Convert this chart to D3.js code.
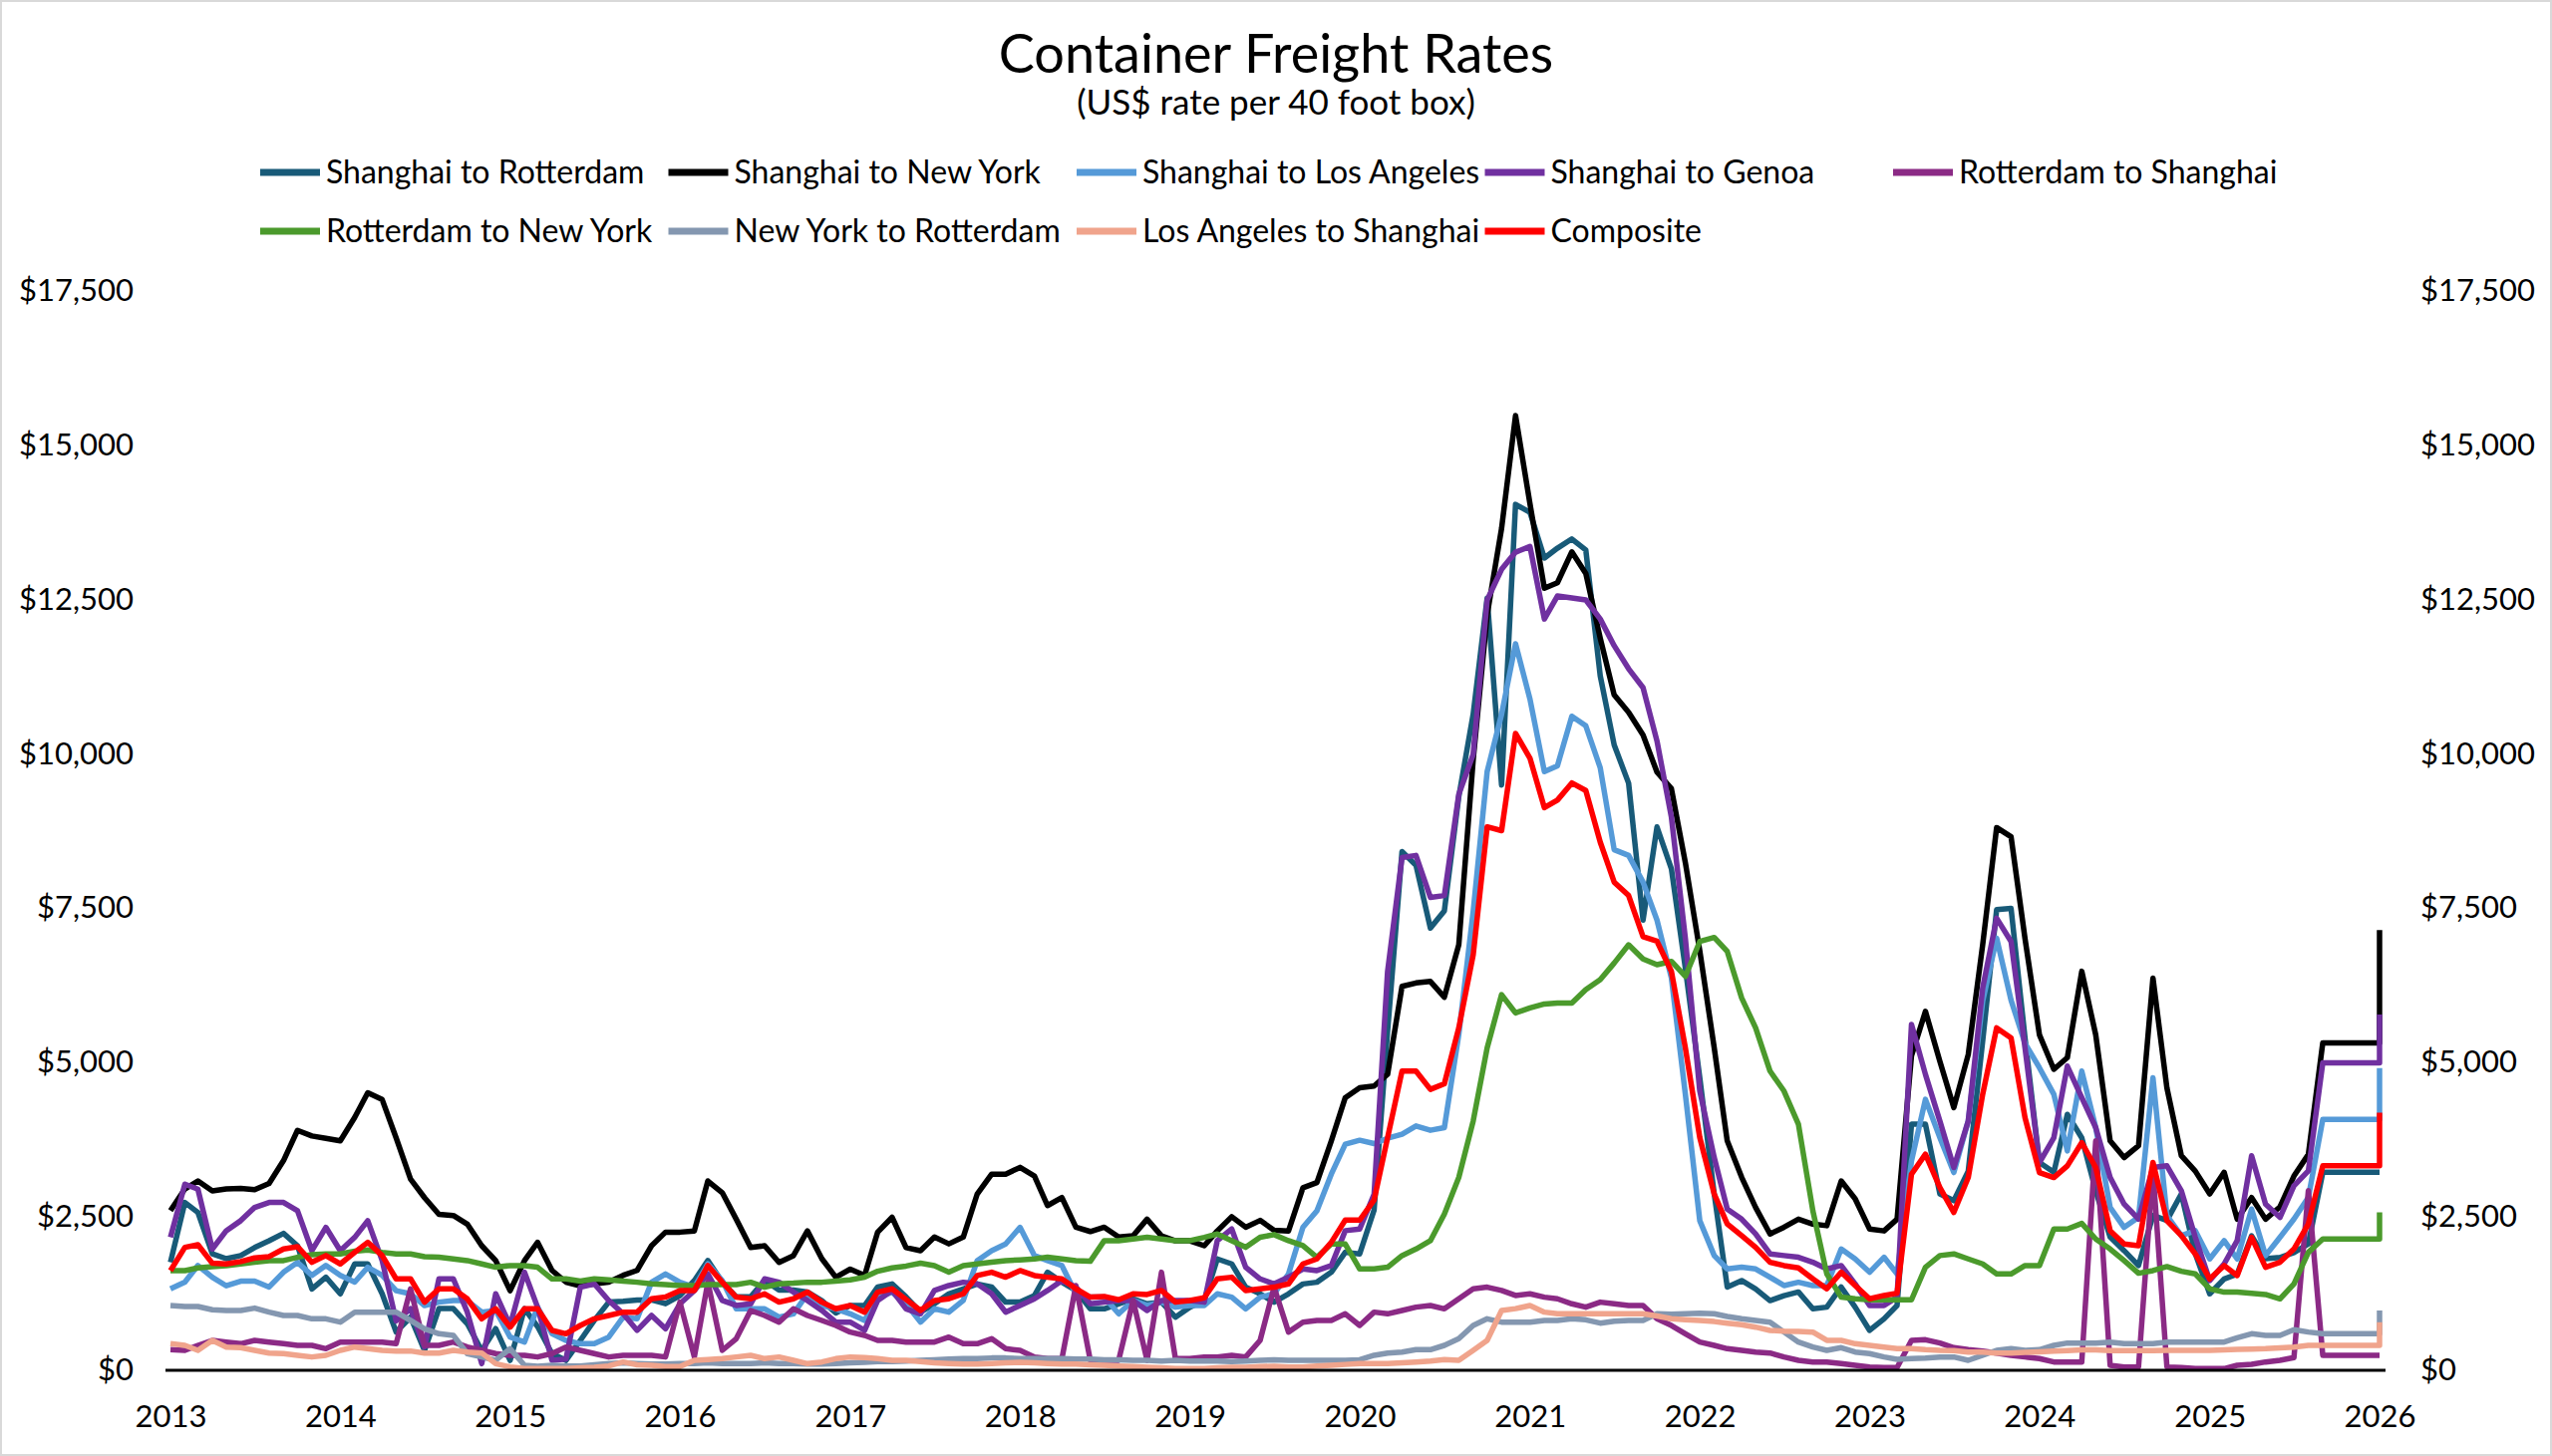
<!DOCTYPE html>
<html>
<head>
<meta charset="utf-8">
<script src="https://cdn.jsdelivr.net/npm/d3@7"></script>
<style>
  body { margin: 0; background: #fff; }
  svg { display: block; font-family: Lato, "Open Sans", sans-serif; }
</style>
</head>
<body>
<svg id="chart" width="2560" height="1461"></svg>
<script>
// monthly values Jan 2013 .. Jan 2026, last entry is the latest reading (plotted at Jan 2026 too)
const routes = ["Shanghai to Rotterdam", "Shanghai to New York", "Shanghai to Los Angeles", "Shanghai to Genoa",
    "Rotterdam to Shanghai", "Rotterdam to New York", "New York to Rotterdam", "Los Angeles to Shanghai", "Composite"];
const colors = ["#185a78", "#000000", "#559ad8", "#7030a0", "#8b2a85", "#4b9a2c", "#8497b0", "#f0a48c", "#ff0000"];

const shanghaiRotterdam = [
    1750, 2720, 2560, 1890, 1810, 1860, 1990, 2100, 2220, 2020, 1320, 1510,
    1240, 1725, 1725, 1240, 620, 860, 320, 1000, 1000, 755, 320, 675,
    160, 1000, 710, 270, 160, 485, 810, 1105, 1120, 1140, 1140, 1080,
    1210, 1455, 1780, 1430, 1190, 1190, 1460, 1300, 1300, 1270, 1130, 930,
    1050, 1050, 1350, 1400, 1190, 943, 1078, 1240, 1320, 1400, 1350, 1105,
    1105, 1213, 1590, 1428, 1294, 997, 997, 1078, 1159, 1078, 1105, 862,
    1024, 1132, 1806, 1725, 1348, 1240, 1105, 1240, 1400, 1428, 1590, 1913,
    1887, 2600, 5500, 8410, 8190, 7170, 7450, 9300, 10640, 12520, 9490, 14040,
    13910, 13170, 13330, 13480, 13300, 11260, 10140, 9520, 7300, 8810, 8130, 6520,
    4740, 2860, 1350, 1455, 1320, 1130, 1210, 1270, 997, 1024, 1350, 1024,
    647, 835, 1050, 3990, 3990, 2860, 2750, 3230, 5340, 7470, 7490, 5390,
    3370, 3210, 4150, 3770, 2910, 2160, 1940, 1700, 2510, 2430, 2860, 1890,
    1240, 1480, 1560, 2180, 1810, 1830, 1910, 2050, 3210, 3210, 3210, 3210,
    3210, 3210];
const shanghaiNewYork = [
    2590, 2940, 3070, 2910, 2940, 2950, 2930, 3030, 3400, 3890, 3800, 3760,
    3720, 4100, 4500, 4390, 3770, 3100, 2800, 2530, 2510, 2370, 2020, 1780,
    1290, 1780, 2075, 1620, 1430, 1370, 1400, 1430, 1540, 1620, 2020, 2240,
    2240, 2260, 3070, 2880, 2450, 1990, 2020, 1750, 1860, 2260, 1810, 1510,
    1640, 1540, 2240, 2480, 1990, 1940, 2160, 2050, 2160, 2860, 3180, 3180,
    3290, 3150, 2670, 2800, 2320, 2250, 2320, 2160, 2180, 2450, 2180, 2100,
    2100, 2020, 2260, 2490, 2320, 2430, 2270, 2260, 2960, 3045, 3720, 4420,
    4580, 4610, 4800, 6225, 6280, 6305, 6050, 6900, 9900, 12250, 13650, 15480,
    14050, 12680, 12770, 13270, 12920, 11870, 10950, 10670, 10300, 9700, 9430, 8230,
    6800, 5230, 3720, 3130, 2640, 2210, 2320, 2450, 2370, 2345, 3070, 2780,
    2290, 2260, 2450, 5100, 5820, 5010, 4260, 5120, 6900, 8800, 8650, 7000,
    5440, 4880, 5070, 6470, 5440, 3720, 3450, 3640, 6360, 4580, 3480, 3230,
    2860, 3210, 2450, 2800, 2450, 2650, 3150, 3500, 5310, 5310, 5310, 5310,
    5310, 7140];
const shanghaiLosAngeles = [
    1320, 1430, 1700, 1510, 1370, 1445, 1445, 1350, 1590, 1750, 1540, 1700,
    1540, 1430, 1670, 1540, 1290, 1240, 1050, 1105, 1130, 1130, 943, 970,
    540, 458, 1024, 593, 485, 431, 431, 539, 862, 835, 1428, 1563,
    1428, 1348, 1725, 1455, 997, 997, 997, 862, 916, 1240, 1051, 997,
    916, 808, 1186, 1267, 1078, 781, 997, 943, 1132, 1779, 1940, 2048,
    2318, 1860, 1779, 1698, 1240, 1186, 1186, 916, 1132, 1051, 1105, 1024,
    1051, 1051, 1240, 1186, 997, 1186, 1240, 1563, 2318, 2587, 3180, 3665,
    3730, 3676, 3762, 3827, 3962, 3892, 3935, 5444, 7438, 9708, 10636, 11780,
    10883, 9708, 9802, 10605, 10450, 9770, 8441, 8348, 7915, 7300, 6360, 4474,
    2426, 1860, 1644, 1671, 1644, 1509, 1374, 1428, 1374, 1374, 1967, 1806,
    1590, 1833, 1563, 3396, 4393, 3773, 3207, 4042, 5983, 7007, 6000, 5300,
    4905, 4474, 3557, 4851, 3935, 2641, 2318, 2479, 4743, 2506, 2183, 2264,
    1806, 2102, 1806, 2614, 1860, 2156, 2452, 2803, 4069, 4069, 4069, 4069,
    4069, 4900];
const shanghaiGenoa = [
    2156, 3018, 2937, 1967, 2264, 2426, 2641, 2722, 2722, 2587, 1940, 2318,
    1940, 2156, 2426, 1779, 800, 1000, 380, 1482, 1482, 943, 108, 1240,
    727, 1590, 1024, 162, 180, 1348, 1401, 1132, 916, 647, 889, 674,
    1078, 1294, 1563, 1132, 1051, 1078, 1482, 1428, 1267, 1132, 970, 781,
    781, 647, 1132, 1294, 997, 916, 1294, 1374, 1428, 1401, 1240, 943,
    1051, 1159, 1294, 1455, 1348, 1078, 1105, 1132, 1132, 970, 1132, 1132,
    1132, 1105, 2102, 2291, 1671, 1482, 1401, 1509, 1644, 1617, 1698, 2264,
    2291, 2857, 6468, 8315, 8348, 7668, 7698, 9338, 9986, 12491, 12986, 13265,
    13357, 12182, 12554, 12523, 12491, 12182, 11749, 11375, 11069, 10203, 8967, 7000,
    4528, 3450, 2614, 2452, 2210, 1887, 1860, 1833, 1752, 1644, 1698, 1401,
    1051, 1051, 1186, 5606, 4797, 4042, 3288, 4042, 6199, 7330, 6953, 5228,
    3369, 3773, 4932, 4420, 3935, 3126, 2695, 2452, 3288, 3315, 2911, 2156,
    1455, 1725, 2102, 3477, 2695, 2479, 2991, 3234, 4986, 4986, 4986, 4986,
    4986, 5767];
const rotterdamShanghai = [
    334, 323, 404, 485, 458, 431, 485, 458, 431, 404, 404, 350,
    458, 458, 458, 458, 431, 1320, 404, 404, 458, 377, 323, 270,
    242, 242, 216, 270, 377, 323, 270, 216, 242, 242, 242, 216,
    1105, 216, 1428, 323, 512, 970, 889, 781, 997, 889, 808, 727,
    620, 566, 485, 485, 458, 458, 458, 539, 431, 431, 512, 350,
    323, 216, 189, 189, 1374, 162, 162, 162, 1132, 162, 1590, 189,
    189, 216, 216, 242, 216, 485, 1348, 620, 781, 808, 808, 916,
    727, 943, 916, 970, 1024, 1051, 997, 1159, 1321, 1348, 1294, 1213,
    1240, 1186, 1159, 1078, 1024, 1105, 1078, 1051, 1051, 835, 727, 593,
    458, 404, 350, 323, 296, 280, 216, 162, 135, 135, 108, 81,
    54, 43, 43, 485, 496, 442, 367, 334, 313, 280, 242, 216,
    189, 135, 135, 135, 3719, 81, 54, 54, 3234, 54, 43, 27,
    27, 27, 81, 97, 135, 162, 205, 2911, 242, 242, 242, 242,
    242, 242];
const rotterdamNewYork = [
    1617, 1617, 1660, 1682, 1698, 1725, 1752, 1779, 1779, 1833, 1876, 1887,
    1887, 1930, 1951, 1913, 1887, 1887, 1843, 1833, 1806, 1779, 1725, 1671,
    1698, 1698, 1671, 1482, 1482, 1445, 1482, 1466, 1445, 1428, 1401, 1391,
    1374, 1374, 1391, 1391, 1391, 1428, 1348, 1401, 1412, 1428, 1428, 1445,
    1466, 1509, 1606, 1660, 1690, 1736, 1698, 1590, 1698, 1725, 1752, 1779,
    1790, 1806, 1833, 1806, 1779, 1768, 2102, 2102, 2129, 2156, 2129, 2102,
    2102, 2156, 2210, 2102, 1994, 2156, 2200, 2102, 2021, 1833, 2048, 2048,
    1644, 1644, 1671, 1860, 1967, 2102, 2533, 3126, 4042, 5228, 6091, 5794,
    5875, 5940, 5956, 5956, 6172, 6333, 6603, 6899, 6670, 6576, 6630, 6387,
    6953, 7018, 6791, 6037, 5552, 4851, 4528, 3989, 2587, 1563, 1186, 1159,
    1143, 1143, 1143, 1143, 1671, 1860, 1887, 1806, 1725, 1563, 1563, 1698,
    1698, 2291, 2291, 2382, 2129, 1967, 1779, 1574, 1617, 1682, 1606, 1563,
    1321, 1267, 1267, 1250, 1229, 1159, 1401, 1913, 2129, 2129, 2129, 2129,
    2129, 2560];
const newYorkRotterdam = [
    1051, 1035, 1035, 981, 970, 970, 1008, 943, 889, 889, 835, 835,
    781, 943, 943, 943, 943, 808, 674, 593, 566, 270, 216, 162,
    350, 81, 65, 80, 70, 70, 90, 110, 120, 110, 100, 100,
    110, 110, 120, 110, 110, 110, 120, 110, 110, 100, 100, 110,
    120, 130, 140, 140, 150, 160, 170, 180, 190, 190, 200, 200,
    190, 190, 190, 190, 180, 180, 170, 170, 160, 160, 150, 160,
    150, 150, 150, 140, 150, 160, 170, 160, 160, 162, 162, 162,
    170, 243, 280, 296, 334, 334, 404, 512, 727, 835, 781, 781,
    781, 808, 808, 835, 819, 765, 797, 808, 808, 916, 910, 916,
    927, 916, 873, 835, 808, 781, 620, 458, 377, 323, 367, 296,
    270, 216, 178, 189, 199, 216, 216, 162, 243, 323, 350, 323,
    334, 404, 442, 442, 442, 458, 431, 431, 431, 458, 458, 458,
    458, 458, 528, 593, 566, 566, 658, 620, 593, 593, 593, 593,
    593, 970];
const losAngelesShanghai = [
    431, 404, 323, 485, 377, 367, 323, 280, 270, 242, 216, 242,
    323, 377, 350, 323, 313, 313, 280, 280, 323, 296, 280, 108,
    54, 27, 27, 27, 27, 40, 50, 70, 135, 90, 80, 60,
    60, 162, 175, 189, 216, 242, 189, 216, 162, 108, 135, 189,
    216, 205, 189, 162, 162, 140, 120, 110, 100, 100, 110, 120,
    130, 120, 110, 100, 100, 90, 80, 70, 60, 50, 40, 27,
    27, 27, 40, 50, 50, 60, 65, 54, 54, 70, 81, 95,
    108, 108, 108, 120, 135, 150, 172, 162, 323, 485, 970, 1000,
    1050, 943, 916, 916, 916, 916, 916, 916, 916, 880, 835, 820,
    808, 790, 765, 740, 700, 647, 636, 630, 620, 485, 485, 431,
    404, 377, 350, 350, 334, 323, 320, 296, 296, 280, 280, 290,
    300, 310, 320, 330, 330, 320, 320, 320, 320, 323, 323, 323,
    323, 330, 340, 345, 350, 365, 377, 404, 404, 404, 404, 404,
    404, 781];
const composite = [
    1617, 1994, 2037, 1736, 1725, 1763, 1822, 1843, 1967, 2005, 1752, 1860,
    1725, 1913, 2075, 1860, 1482, 1482, 1105, 1321, 1321, 1159, 835, 997,
    700, 997, 997, 647, 593, 727, 835, 889, 943, 943, 1159, 1186,
    1294, 1294, 1698, 1428, 1186, 1159, 1240, 1105, 1159, 1267, 1105, 997,
    1051, 943, 1267, 1321, 1150, 970, 1132, 1159, 1240, 1536, 1590, 1509,
    1617, 1536, 1509, 1482, 1321, 1186, 1197, 1143, 1240, 1229, 1294, 1105,
    1132, 1175, 1482, 1509, 1294, 1321, 1348, 1401, 1725, 1806, 2075, 2436,
    2436, 2760, 3773, 4851, 4851, 4555, 4646, 5552, 6738, 8812, 8750, 10327,
    9925, 9122, 9245, 9523, 9400, 8564, 7915, 7698, 7030, 6957, 6468, 5228,
    3773, 2857, 2372, 2183, 1994, 1752, 1698, 1660, 1482, 1321, 1590, 1374,
    1159, 1213, 1250, 3180, 3504, 2964, 2560, 3126, 4474, 5552, 5390, 4096,
    3207, 3126, 3315, 3692, 3288, 2264, 2048, 2021, 3369, 2426, 2183, 1887,
    1482, 1698, 1536, 2156, 1671, 1752, 1967, 2372, 3315, 3315, 3315, 3315,
    3315, 4177];

const yTicks = [0, 2500, 5000, 7500, 10000, 12500, 15000, 17500];

const months = d3.timeMonth.range(new Date(2013, 0, 1), new Date(2026, 1, 1));
const dates = months.concat([months[months.length - 1]]);

const seriesValues = [shanghaiRotterdam, shanghaiNewYork, shanghaiLosAngeles, shanghaiGenoa,
    rotterdamShanghai, rotterdamNewYork, newYorkRotterdam, losAngelesShanghai, composite];
const series = routes.map((name, i) => ({name: name, color: colors[i], values: seriesValues[i]}));

const svg = d3.select("#chart");
const width = 2560, height = 1461;

svg.append("rect")
    .attr("x", 1).attr("y", 1)
    .attr("width", width - 2).attr("height", height - 2)
    .attr("fill", "#fff")
    .attr("stroke", "#d9d9d9")
    .attr("stroke-width", 2);

const x = d3.scaleTime()
    .domain([new Date(2013, 0, 1), new Date(2026, 0, 1)])
    .range([171, 2387]);
const y = d3.scaleLinear()
    .domain([0, 17500])
    .range([1375, 292]);

//titles
svg.append("text")
    .attr("x", width / 2).attr("y", 73)
    .attr("text-anchor", "middle")
    .style("font-size", "54px")
    .text("Container Freight Rates");
svg.append("text")
    .attr("x", width / 2).attr("y", 115)
    .attr("text-anchor", "middle")
    .style("font-size", "35px")
    .text("(US$ rate per 40 foot box)");

//axes
const fmt = d3.format("$,");
const styleAxis = g => {
    g.select(".domain").remove();
    g.selectAll("text").style("font-size", "31px").style("fill", "#000").style("font-family", "Lato, sans-serif");
};
svg.append("g")
    .attr("transform", `translate(${x.range()[0]},0)`)
    .call(d3.axisLeft(y).tickValues(yTicks).tickFormat(fmt).tickSize(0).tickPadding(37))
    .call(styleAxis);
svg.append("g")
    .attr("transform", `translate(${x.range()[1]},0)`)
    .call(d3.axisRight(y).tickValues(yTicks).tickFormat(fmt).tickSize(0).tickPadding(41))
    .call(styleAxis);
svg.append("g")
    .attr("transform", `translate(0,${y(0)})`)
    .call(d3.axisBottom(x).ticks(d3.timeYear.every(1)).tickFormat(d3.timeFormat("%Y")).tickSize(0).tickPadding(35))
    .call(styleAxis);

//lines
const line = d3.line()
    .x((d, i) => x(dates[i]))
    .y(d => y(d));

svg.append("g")
    .selectAll("path")
    .data(series)
    .join("path")
        .attr("d", d => line(d.values))
        .attr("fill", "none")
        .attr("stroke", d => d.color)
        .attr("stroke-width", 5.5)
        .attr("stroke-linejoin", "round");

svg.append("line")
    .attr("x1", x.range()[0] - 5).attr("x2", x.range()[1] + 6)
    .attr("y1", y(0)).attr("y2", y(0))
    .attr("stroke", "#000")
    .attr("stroke-width", 3);

//legend
const legend = svg.append("g")
    .selectAll("g")
    .data(series)
    .join("g")
        .attr("transform", (d, i) => `translate(${261 + (i % 5) * 409.5},${173 + Math.floor(i / 5) * 59})`);
legend.append("line")
    .attr("x1", 0).attr("x2", 60)
    .attr("stroke", d => d.color)
    .attr("stroke-width", 7);
legend.append("text")
    .attr("x", 66)
    .attr("dy", "0.35em")
    .style("font-size", "32px")
    .text(d => d.name);
</script>
</body>
</html>
